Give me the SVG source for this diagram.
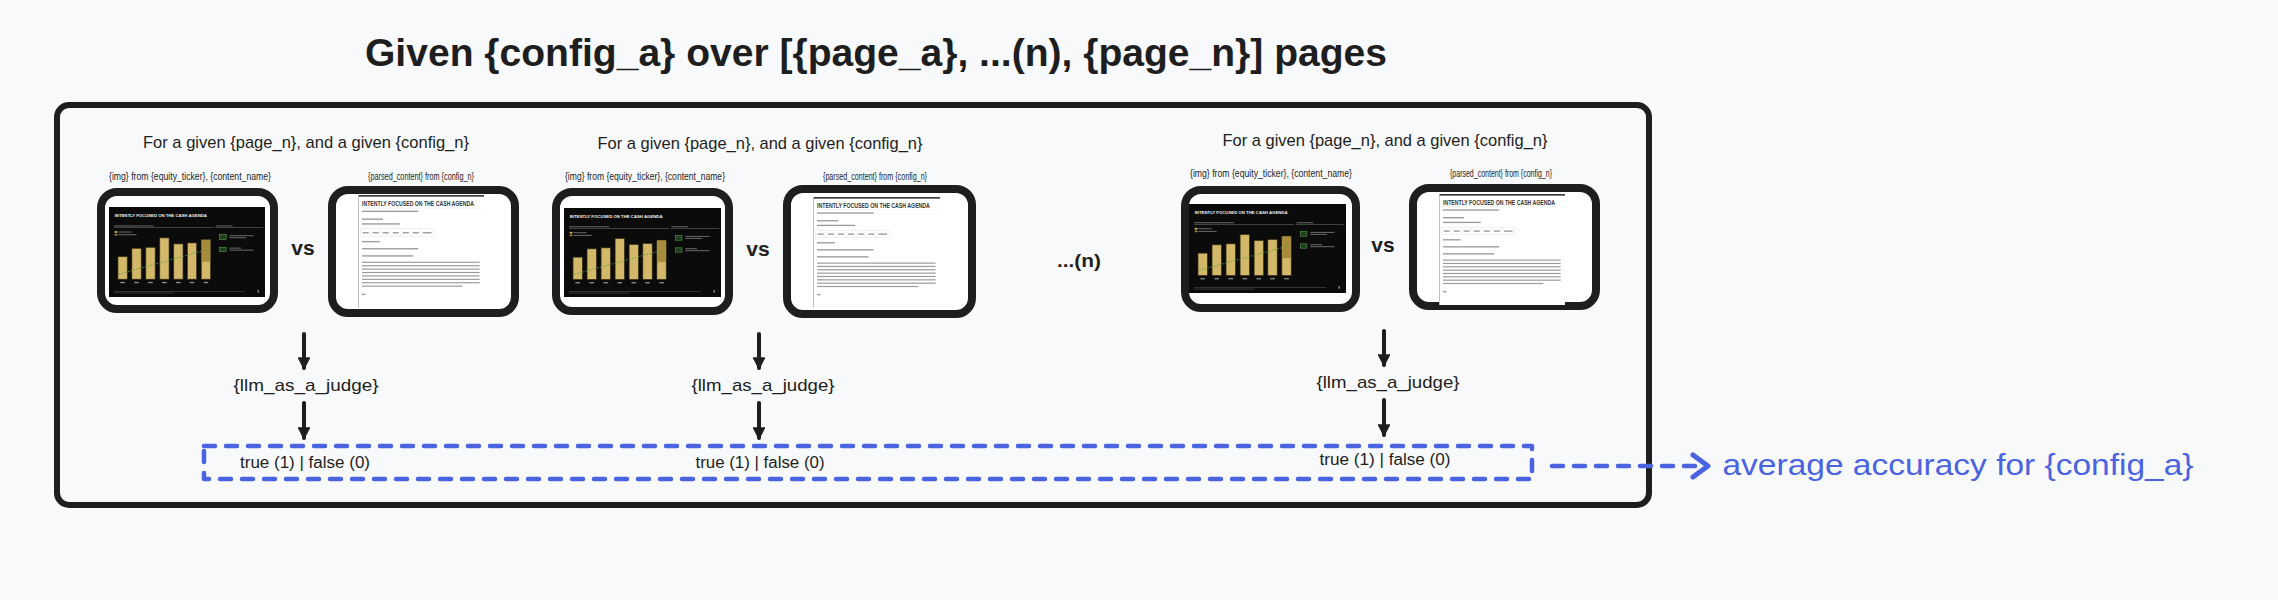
<svg xmlns="http://www.w3.org/2000/svg" xmlns:xlink="http://www.w3.org/1999/xlink" width="2278" height="600" viewBox="0 0 2278 600">
<style>
.t{font-family:"Liberation Sans",Arial,sans-serif;fill:#1e1e1e;text-anchor:middle}
.title{font-size:38px;font-weight:bold}
.sec{font-size:17px}
.sm{font-size:10px}
.vs{font-size:21px;font-weight:bold}
.judge{font-size:17px}
.res{font-size:16px}
.blue{fill:#4a63e0}
.frame{fill:#ffffff;stroke:#1e1e1e;stroke-width:8}
.arrow{stroke:#1e1e1e;stroke-width:4;fill:none;stroke-linecap:round;marker-end:url(#ah)}
.dash{stroke:#4a63e0;stroke-width:4.5;fill:none;stroke-dasharray:11 11;stroke-linecap:round;stroke-linejoin:round}
.tl{fill:#9a9a9a}
.sl{fill:#6a6a6a}
</style>
<defs>
<marker id="ah" viewBox="0 0 12 12" refX="10" refY="6" markerWidth="3.2" markerHeight="3.2" orient="auto" markerUnits="strokeWidth">
<path d="M0,0 L12,6 L0,12 Z" fill="#1e1e1e"/>
</marker>
<symbol id="slide" viewBox="0 0 470 268" preserveAspectRatio="none">
<rect x="0" y="0" width="470" height="268" fill="#0b0b0b"/>
<text x="17" y="30" font-family="Liberation Sans,Arial,sans-serif" font-weight="bold" font-size="10" fill="#f0f0f0" textLength="278" lengthAdjust="spacingAndGlyphs">INTENTLY FOCUSED ON THE CASH AGENDA</text>
<rect x="15" y="55" width="120" height="3" class="sl"/>
<rect x="15" y="61" width="300" height="1.5" fill="#777"/>
<rect x="322" y="55" width="50" height="3" class="sl"/>
<rect x="320" y="61" width="145" height="1.5" fill="#777"/>
<rect x="17" y="72" width="8" height="5" fill="#d2b868"/>
<rect x="28" y="73" width="40" height="3" class="sl"/>
<rect x="17" y="80" width="8" height="5" fill="#a88c3c"/>
<rect x="28" y="81" width="55" height="3" class="sl"/>
<g fill="#d2b868" stroke="#3a3015" stroke-width="2">
<rect x="27" y="148" width="28" height="67"/>
<rect x="69" y="123" width="28" height="92"/>
<rect x="111" y="120" width="28" height="95"/>
<rect x="153" y="92" width="28" height="123"/>
<rect x="195" y="110" width="28" height="105"/>
<rect x="236" y="107" width="28" height="108"/>
<rect x="278" y="97" width="28" height="118"/>
</g>
<rect x="279" y="98" width="26" height="65" fill="#a88c3c"/>
<path d="M30,200 L295,127" stroke="#5fa03c" stroke-width="2.5" stroke-dasharray="5 4" fill="none"/>
<g fill="#8a8a8a">
<rect x="34" y="223" width="14" height="4"/><rect x="76" y="223" width="14" height="4"/><rect x="118" y="223" width="14" height="4"/><rect x="160" y="223" width="14" height="4"/><rect x="202" y="223" width="14" height="4"/><rect x="243" y="223" width="14" height="4"/><rect x="285" y="223" width="14" height="4"/>
</g>
<rect x="333" y="82" width="20" height="15" fill="#1f3d1f" stroke="#5fb04c" stroke-width="1.5"/>
<rect x="363" y="84" width="72" height="3" class="sl"/>
<rect x="363" y="90" width="50" height="3" class="sl"/>
<rect x="333" y="120" width="20" height="13" fill="#1f3d1f" stroke="#5fb04c" stroke-width="1.5"/>
<rect x="363" y="121" width="35" height="3" class="sl"/>
<rect x="363" y="127" width="72" height="3" class="sl"/>
<rect x="15" y="251" width="395" height="2" fill="#4a4a4a"/>
<rect x="15" y="255" width="180" height="2" fill="#4a4a4a"/>
<rect x="448" y="247" width="3" height="8" fill="#bbb"/>
</symbol>
<symbol id="doc" viewBox="0 0 377 332" preserveAspectRatio="none">
<rect x="0" y="0" width="377" height="332" fill="#ffffff"/>
<rect x="0" y="0" width="377" height="5" fill="#3d3d3d"/>
<rect x="0" y="0" width="2.5" height="332" fill="#b5b5b5"/>
<text x="12" y="32" font-family="Liberation Sans,Arial,sans-serif" font-weight="bold" font-size="19" fill="#333" textLength="335" lengthAdjust="spacingAndGlyphs">INTENTLY FOCUSED ON THE CASH AGENDA</text>
<rect x="0" y="38" width="377" height="1" fill="#ddd"/>
<rect x="12" y="46" width="168" height="4" class="tl"/>
<rect x="12" y="69" width="63" height="4" class="tl"/>
<rect x="12" y="83" width="113" height="4" class="tl"/>
<g fill="none" stroke="#d4d4d4" stroke-width="1">
<rect x="8" y="99" width="218" height="23"/>
<path d="M38,99 V122 M68,99 V122 M98,99 V122 M128,99 V122 M158,99 V122 M188,99 V122"/>
</g>
<g class="tl">
<rect x="14" y="109" width="18" height="4"/><rect x="44" y="109" width="18" height="4"/><rect x="74" y="109" width="18" height="4"/><rect x="104" y="109" width="18" height="4"/><rect x="134" y="109" width="18" height="4"/><rect x="164" y="109" width="18" height="4"/><rect x="194" y="109" width="26" height="4"/>
</g>
<rect x="12" y="135" width="53" height="4" class="tl"/>
<rect x="12" y="156" width="168" height="4" class="tl"/>
<rect x="12" y="177" width="153" height="4" class="tl"/>
<g class="tl">
<rect x="12" y="196" width="352" height="3.5"/>
<rect x="12" y="206" width="352" height="3.5"/>
<rect x="12" y="216" width="352" height="3.5"/>
<rect x="12" y="226" width="352" height="3.5"/>
<rect x="12" y="236" width="352" height="3.5"/>
<rect x="12" y="246" width="352" height="3.5"/>
<rect x="12" y="256" width="352" height="3.5"/>
<rect x="12" y="266" width="300" height="3.5"/>
</g>
<rect x="12" y="290" width="10" height="4" class="tl"/>
</symbol>
</defs>
<rect x="0" y="0" width="2278" height="600" fill="#f8f9fa"/>
<g id="title"><text class="t title" x="876" y="66" textLength="1022" lengthAdjust="spacingAndGlyphs">Given {config_a} over [{page_a}, ...(n), {page_n}] pages</text></g>
<g id="container"><rect x="57" y="105" width="1592" height="400" rx="12" fill="none" stroke="#1e1e1e" stroke-width="6"/></g>
<g id="section1">
<text class="t sec" x="306" y="148" textLength="326" lengthAdjust="spacingAndGlyphs">For a given {page_n}, and a given {config_n}</text>
<text class="t sm" x="190" y="180" textLength="162" lengthAdjust="spacingAndGlyphs">{img} from {equity_ticker}, {content_name}</text>
<text class="t sm" x="421" y="180" textLength="106" lengthAdjust="spacingAndGlyphs">{parsed_content} from {config_n}</text>
</g>
<g id="img1"><rect class="frame" x="101" y="192" width="173" height="117" rx="16"/><use href="#slide" x="109" y="207" width="156" height="90"/></g>
<g id="vs1"><text class="t vs" x="303" y="255">vs</text></g>
<g id="doc1"><rect class="frame" x="332" y="190" width="183" height="123" rx="16"/><use href="#doc" x="358" y="195" width="126" height="113"/></g>
<g id="judge1"><text class="t judge" x="306" y="391" textLength="145" lengthAdjust="spacingAndGlyphs">{llm_as_a_judge}</text></g>
<g id="result1"><text class="t res" x="305" y="468" textLength="130" lengthAdjust="spacingAndGlyphs">true (1) | false (0)</text></g>
<g id="section2">
<text class="t sec" x="760" y="149" textLength="325" lengthAdjust="spacingAndGlyphs">For a given {page_n}, and a given {config_n}</text>
<text class="t sm" x="645" y="180" textLength="160" lengthAdjust="spacingAndGlyphs">{img} from {equity_ticker}, {content_name}</text>
<text class="t sm" x="875" y="180" textLength="104" lengthAdjust="spacingAndGlyphs">{parsed_content} from {config_n}</text>
</g>
<g id="img2"><rect class="frame" x="556" y="192" width="173" height="119" rx="16"/><use href="#slide" x="564" y="208" width="157" height="89"/></g>
<g id="vs2"><text class="t vs" x="758" y="256">vs</text></g>
<g id="doc2"><rect class="frame" x="787" y="189" width="185" height="125" rx="16"/><use href="#doc" x="813" y="197" width="127" height="111"/></g>
<g id="judge2"><text class="t judge" x="763" y="391" textLength="143" lengthAdjust="spacingAndGlyphs">{llm_as_a_judge}</text></g>
<g id="result2"><text class="t res" x="760" y="468" textLength="129" lengthAdjust="spacingAndGlyphs">true (1) | false (0)</text></g>
<g id="ellipsis"><text class="t" x="1079" y="267" font-size="19" font-weight="bold" textLength="44" lengthAdjust="spacingAndGlyphs">...(n)</text></g>
<g id="section3">
<text class="t sec" x="1385" y="146" textLength="325" lengthAdjust="spacingAndGlyphs">For a given {page_n}, and a given {config_n}</text>
<text class="t sm" x="1271" y="177" textLength="162" lengthAdjust="spacingAndGlyphs">{img} from {equity_ticker}, {content_name}</text>
<text class="t sm" x="1501" y="177" textLength="102" lengthAdjust="spacingAndGlyphs">{parsed_content} from {config_n}</text>
</g>
<g id="img3"><rect class="frame" x="1185" y="190" width="171" height="118" rx="16"/><use href="#slide" x="1189" y="204" width="157" height="89"/></g>
<g id="vs3"><text class="t vs" x="1383" y="252">vs</text></g>
<g id="doc3"><rect class="frame" x="1413" y="188" width="183" height="118" rx="16"/><use href="#doc" x="1439" y="194" width="126" height="111"/></g>
<g id="judge3"><text class="t judge" x="1388" y="388" textLength="143" lengthAdjust="spacingAndGlyphs">{llm_as_a_judge}</text></g>
<g id="result3"><text class="t res" x="1385" y="465" textLength="131" lengthAdjust="spacingAndGlyphs">true (1) | false (0)</text></g>
<g id="results-box"><rect class="dash" x="204" y="446" width="1328" height="33"/></g>
<g id="output"><text class="t blue" x="1958" y="475" font-size="29" textLength="471" lengthAdjust="spacingAndGlyphs">average accuracy for {config_a}</text></g>
<g id="connectors">
<path class="arrow" d="M304,334 V368"/>
<path class="arrow" d="M304,403 V438"/>
<path class="arrow" d="M759,334 V368"/>
<path class="arrow" d="M759,403 V438"/>
<path class="arrow" d="M1384,331 V365"/>
<path class="arrow" d="M1384,400 V435"/>
<path class="dash" d="M1552,466 H1700"/>
<path d="M1693,455 L1708,466 L1693,477" fill="none" stroke="#4a63e0" stroke-width="5" stroke-linecap="round" stroke-linejoin="round"/>
</g>
</svg>
